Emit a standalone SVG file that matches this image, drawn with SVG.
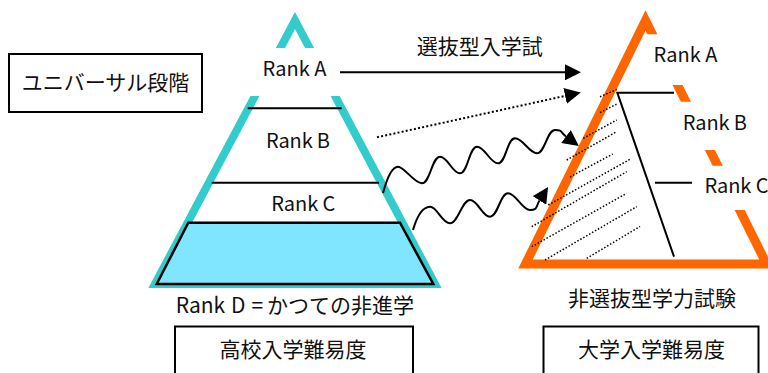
<svg xmlns="http://www.w3.org/2000/svg" width="768" height="373" viewBox="0 0 768 373">
<style>
text { font-family: "Noto Sans CJK JP", "Noto Sans CJK SC", sans-serif; fill: #111; }
.jp { font-size: 21px; }
.rk { font-size: 20px; }
.box { fill: #fff; stroke: #000; stroke-width: 2; }
.ln { stroke: #000; stroke-width: 2; fill: none; }
.hatch { stroke: #000; stroke-width: 1.5; stroke-dasharray: 1.5 1.9; fill: none; }
.arrow { stroke: #000; stroke-width: 2; fill: none; marker-end: url(#ah); }
.dot { stroke-dasharray: 2 2.2; }
</style>
<defs>
<marker id="ah" markerUnits="userSpaceOnUse" markerWidth="16" markerHeight="16" refX="0" refY="8" orient="auto" viewBox="0 0 16 16"><path d="M0,0 L16,8 L0,16 Z" fill="#000"/></marker>
<clipPath id="clipL"><path clip-rule="evenodd" d="M0,0H768V373H0Z M200,48H400V96H200Z"/></clipPath>
<clipPath id="clipR"><path clip-rule="evenodd" d="M0,0H768V373H0Z M645.5,34.3H768V85H645.5Z M660,101.7H768V150H660Z M660,165.7H768V210H660Z"/></clipPath>
</defs>
<rect width="768" height="373" fill="#fff"/>

<g id="universal-box">
<rect class="box" x="9" y="54" width="193" height="58"/>
<text class="jp" x="105.5" y="89.5" text-anchor="middle">ユニバーサル段階</text>
</g>

<g id="hs-pyramid">
<polygon points="295,20.5 155,284 435,284" fill="none" stroke="#33CCCC" stroke-width="8" stroke-linejoin="miter" clip-path="url(#clipL)"/>
<polygon points="188.3,222.7 400,222.7 433.3,284 156.7,284" fill="#80E5FF" stroke="#000" stroke-width="2.5"/>
<line class="ln" x1="247.7" y1="108.3" x2="341.7" y2="108.3"/>
<line class="ln" x1="211.7" y1="182.7" x2="379" y2="182.7"/>
<text class="rk" x="262.5" y="76" textLength="64" lengthAdjust="spacing">Rank A</text>
<text class="rk" x="266" y="147.7" textLength="64" lengthAdjust="spacing">Rank B</text>
<text class="rk" x="271.3" y="211" textLength="64" lengthAdjust="spacing">Rank C</text>
<text class="jp" y="312.5"><tspan x="175.7">Rank</tspan><tspan x="231">D</tspan><tspan x="251.5">=</tspan><tspan x="267">かつての非進学</tspan></text>
</g>

<g id="univ-triangle">
<polygon points="645.5,20.5 525.5,264 766.5,264" fill="none" stroke="#FF6600" stroke-width="9" stroke-linejoin="miter" clip-path="url(#clipR)"/>
<path class="ln" d="M674,92.7 H617.3 L674,256.7"/>
<line class="ln" x1="655" y1="182.7" x2="692" y2="182.7"/>
<g id="hatch">
<line class="hatch" x1="600" y1="96.7" x2="616.7" y2="89.5"/>
<line class="hatch" x1="600" y1="112.5" x2="617" y2="104"/>
<line class="hatch" x1="583.3" y1="138.3" x2="616.7" y2="120"/>
<line class="hatch" x1="566.7" y1="160" x2="616.7" y2="131.7"/>
<line class="hatch" x1="570" y1="177" x2="612.7" y2="154"/>
<line class="hatch" x1="548.3" y1="205" x2="630" y2="159.3"/>
<line class="hatch" x1="531.7" y1="226.7" x2="626.7" y2="171.7"/>
<line class="hatch" x1="531.7" y1="246.7" x2="626.7" y2="193.3"/>
<line class="hatch" x1="545" y1="260" x2="636.7" y2="206.7"/>
<line class="hatch" x1="586.7" y1="258.3" x2="640" y2="226.5"/>
</g>
<text class="rk" x="653.5" y="62.3" textLength="64" lengthAdjust="spacing">Rank A</text>
<text class="rk" x="682.8" y="130" textLength="64" lengthAdjust="spacing">Rank B</text>
<text class="rk" x="704.5" y="193.3" textLength="64" lengthAdjust="spacing">Rank C</text>
<text class="jp" x="652" y="306" text-anchor="middle">非選抜型学力試験</text>
</g>

<g id="hs-box">
<rect class="box" x="175" y="326.5" width="238" height="60"/>
<text class="jp" x="293" y="357" text-anchor="middle">高校入学難易度</text>
</g>

<g id="univ-box">
<rect class="box" x="543.5" y="326.5" width="215" height="60"/>
<text class="jp" x="651.5" y="357" text-anchor="middle">大学入学難易度</text>
</g>

<g id="connectors">
<line class="arrow" x1="340" y1="72.3" x2="565" y2="72.3"/>
<text class="jp" x="479.7" y="53.7" text-anchor="middle">選抜型入学試</text>
<line class="arrow dot" x1="377" y1="137.3" x2="565.1" y2="95.9"/>
<path class="arrow" d="M383,193 C387,178 392,167 398,166.7 S414,183.3 422,183.3 S432,156.7 440,156.7 S452,173.3 460,173.3 S469,146.7 477,146.7 S490,163.3 498,163.3 S507,138.3 515,138.3 S529,153.3 537,153.3 S547,130 555,130 S560,132 566,136.5"/>
<path class="arrow" d="M413,230 C417,216 423,207 430,206.7 S442,223.3 450,223.3 S462,200 470,200 S482,216.7 490,216.7 S500,193.3 508,193.3 S522,210 530,210 S536,206 539.5,200.5"/>
</g>
</svg>
